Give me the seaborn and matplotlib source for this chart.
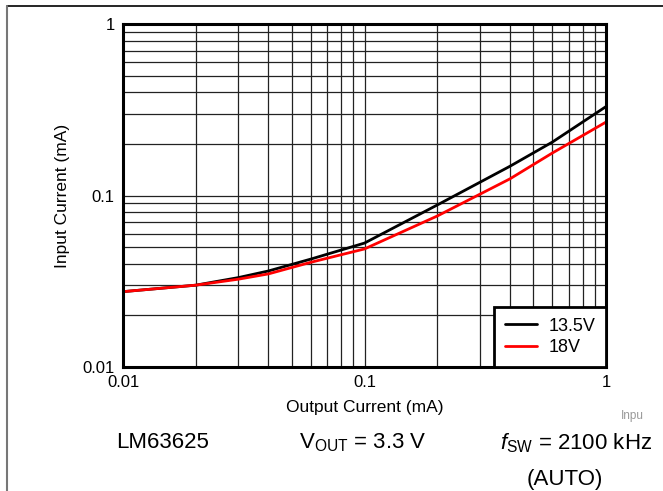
import matplotlib
matplotlib.use('Agg')
import matplotlib.pyplot as plt
import matplotlib.ticker as mticker
from matplotlib.lines import Line2D
import pandas as pd
import seaborn as sns

# Data
output_current = [0.01, 0.02, 0.03, 0.04, 0.06, 0.1, 0.2, 0.4, 0.6, 1.0]
input_13v5 = [0.0275, 0.0300, 0.0332, 0.0363, 0.0426, 0.0528, 0.0880, 0.148, 0.205, 0.330]
input_18v = [0.0275, 0.0300, 0.0325, 0.0349, 0.0408, 0.0488, 0.0759, 0.125, 0.177, 0.268]
series_names = ['13.5V', '18V']
series_colors = ['black', 'red']

df = pd.DataFrame({
    'Output Current (mA)': output_current * 2,
    'Input Current (mA)': input_13v5 + input_18v,
    'Vin': [series_names[0]] * len(output_current) + [series_names[1]] * len(output_current),
})

sns.set_theme(style='white')
plt.rcParams['font.family'] = ['Liberation Sans', 'DejaVu Sans']
plt.rcParams['text.color'] = 'black'
plt.rcParams['mathtext.fontset'] = 'custom'
plt.rcParams['mathtext.rm'] = 'Liberation Sans'
plt.rcParams['mathtext.it'] = 'Liberation Sans:italic'

fig = plt.figure(figsize=(6.63, 4.91), dpi=100)
ax = fig.add_axes([123 / 663, 1 - 367 / 491, 483 / 663, 343 / 491])

sns.lineplot(data=df, x='Output Current (mA)', y='Input Current (mA)', hue='Vin',
             palette=series_colors, linewidth=2, ax=ax)

ax.set_xscale('log')
ax.set_yscale('log')
ax.set_xlim(0.01, 1)
ax.set_ylim(0.01, 1)

fmt = mticker.FuncFormatter(lambda v, p: '{:g}'.format(v))
ax.xaxis.set_major_formatter(fmt)
ax.yaxis.set_major_formatter(fmt)
ax.xaxis.set_minor_formatter(mticker.NullFormatter())
ax.yaxis.set_minor_formatter(mticker.NullFormatter())

ax.grid(True, which='both', color='#222222', linewidth=0.9)
ax.set_axisbelow(True)
ax.tick_params(which='both', length=0, labelsize=12, colors='black', pad=6)

for s in ax.spines.values():
    s.set_color('black')
    s.set_linewidth(2.2)

ax.set_xlabel('Output Current (mA)', fontsize=12.5, color='black', labelpad=7)
ax.set_ylabel('Input Current (mA)', fontsize=12.5, color='black', labelpad=9)

leg = ax.legend(loc='lower right', borderaxespad=0, fontsize=13, fancybox=False,
                framealpha=1, handlelength=1.8, handletextpad=0.6, labelspacing=0.25,
                borderpad=0.6)
leg.get_frame().set_edgecolor('black')
leg.get_frame().set_linewidth(2)

# captions under the chart
fig.text(163 / 663, 1 - 443 / 491, 'LM63625', fontsize=16, ha='center', va='center')
fig.text(363 / 663, 1 - 443 / 491, r'V$_{\mathrm{OUT}}$ = 3.3 V', fontsize=16, ha='center', va='center')
fig.text(576 / 663, 1 - 443 / 491, r'$\mathit{f}_{\mathrm{SW}}$ = 2100 kHz', fontsize=16, ha='center', va='center')
fig.text(565 / 663, 1 - 480 / 491, '(AUTO)', fontsize=16, ha='center', va='center')
fig.text(632 / 663, 1 - 416 / 491, 'Inpu', fontsize=8.5, color='#999999', ha='center', va='center')

# page frame lines
fig.add_artist(Line2D([7 / 663, 1], [1 - 6 / 491, 1 - 6 / 491], color='black', linewidth=1.2,
                      transform=fig.transFigure))
fig.add_artist(Line2D([7 / 663, 7 / 663], [0, 1 - 6 / 491], color='#777777', linewidth=1.5,
                      transform=fig.transFigure))

fig.savefig('out.png', dpi=100)
